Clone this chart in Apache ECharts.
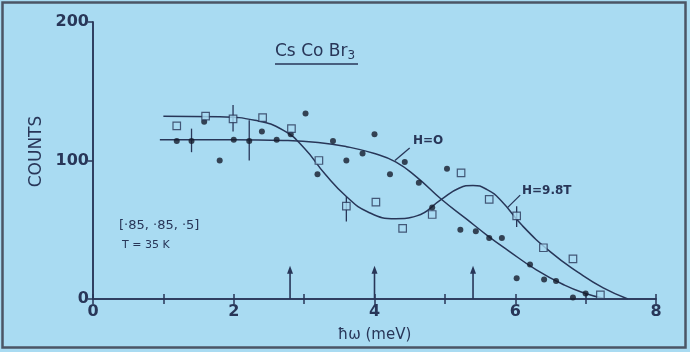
<!DOCTYPE html>
<html><head><meta charset="utf-8">
<script src="https://cdn.jsdelivr.net/npm/echarts@6/dist/echarts.min.js"></script>
<style>html,body{margin:0;padding:0;background:#cfe9f6;}#c{width:690px;height:352px;}</style>
</head><body><div id="c"></div>
<script>
// Data
const circX = [1.19,1.40,1.58,1.80,2.00,2.22,2.40,2.61,2.81,3.02,3.19,3.41,3.60,3.83,4.00,4.22,4.43,4.63,4.82,5.03,5.22,5.44,5.63,5.81,6.02,6.21,6.41,6.58,6.82,7.00];
const circY = [114,114,128,100,115,114,121,115,119,134,90,114,100,105,119,90,99,84,66,94,50,49,44,44,15,25,14,13,1,4];
const sqX = [1.19,1.60,1.99,2.41,2.82,3.21,3.60,4.02,4.40,4.82,5.23,5.63,6.02,6.40,6.82,7.21];
const sqY = [125,132,130,131,123,100,67,70,51,61,91,72,60,37,29,3];
const errX = [1.40,2.22,1.99,3.60,6.02];
const errLo = [106,100,121,56,52];
const errHi = [123,129,140,74,67];
// fitted curves
const fitHX = [1.0,1.8,2.3,2.7,3.0,3.3,3.6,3.9,4.3,4.6,4.95,5.2,5.4,5.6,5.8,6.1,6.5,6.9,7.25,7.6];
const fitHY = [132,131.5,129,122,109,90,74,63,58,60,72,80,82,79,71,53,34,19,8,0];
const fit0X = [0.95,2.0,2.7,3.2,3.6,4.0,4.3,4.6,4.95,5.3,5.6,5.9,6.3,6.7,7.0,7.25];
const fit0Y = [115,115,114.5,113,110,105,99,88,72,58,46,35,21,10,4,0.5];
const arrowX = [2.8,4.0,5.4];
const arrowH = [24,24,24];
const xTicks = [0,2,4,6,8];
const yTicks = [0,100,200];

const ink = '#283658';
const bg = '#a9dbf2';
const zip = (a,b)=>a.map((v,i)=>[v,b[i]]);
const font = 'DejaVu Sans';

const chart = echarts.init(document.getElementById('c'));
chart.setOption({
  backgroundColor: bg,
  animation: false,
  grid: {left:93, right:34, top:22, bottom:53},
  xAxis: [{
    type:'value', min:0, max:8, interval:1,
    axisLine:{lineStyle:{color:ink,width:1.5}},
    axisTick:{inside:true,length:5,lineStyle:{color:ink,width:1.5}},
    axisLabel:{formatter:v=>xTicks.includes(v)?String(v):'',fontSize:16,fontWeight:'bold',fontFamily:font,color:ink,margin:5},
    splitLine:{show:false},
    name:'ħω (meV)', nameLocation:'middle', nameGap:29,
    nameTextStyle:{fontSize:15,fontFamily:font,color:ink}
  },{
    type:'value', min:0, max:8, interval:1, position:'top',
    axisLine:{lineStyle:{color:ink,width:1.5}},
    axisTick:{inside:true,length:5,lineStyle:{color:ink,width:1.5}},
    axisLabel:{show:false}, splitLine:{show:false}
  }],
  yAxis: [{
    type:'value', min:0, max:200, interval:100,
    axisLine:{show:true,lineStyle:{color:ink,width:1.5}},
    axisTick:{show:true,inside:false,length:5,lineStyle:{color:ink,width:1.5}},
    axisLabel:{formatter:v=>yTicks.includes(v)?String(v):'',fontSize:16,fontWeight:'bold',fontFamily:font,color:ink,margin:4},
    splitLine:{show:false},
    name:'COUNTS', nameLocation:'middle', nameGap:41, nameRotate:90,
    nameTextStyle:{fontSize:17,fontFamily:font,color:ink,padding:[0,0,0,18]}
  },{
    type:'value', min:0, max:200, interval:100, position:'right',
    axisLine:{show:true,lineStyle:{color:ink,width:1.5}},
    axisTick:{show:true,inside:true,length:5,lineStyle:{color:ink,width:1.5}},
    axisLabel:{show:false}, splitLine:{show:false}
  }],
  series: [
    {type:'line', data:zip(fitHX,fitHY), smooth:0.5, symbol:'none', lineStyle:{color:ink,width:1.5}, z:2},
    {type:'line', data:zip(fit0X,fit0Y), smooth:0.5, symbol:'none', lineStyle:{color:ink,width:1.5}, z:2},
    {type:'custom', z:3, data:errX.map((x,i)=>[x,errLo[i],errHi[i]]),
      renderItem:(p,api)=>{
        const a=api.coord([api.value(0),api.value(1)]), b=api.coord([api.value(0),api.value(2)]);
        return {type:'line',shape:{x1:a[0],y1:a[1],x2:b[0],y2:b[1]},style:{stroke:ink,lineWidth:1.3}};
      }},
    {type:'custom', z:3, data:arrowX.map((x,i)=>[x,arrowH[i]]),
      renderItem:(p,api)=>{
        const a=api.coord([api.value(0),0]), b=api.coord([api.value(0),api.value(1)]);
        return {type:'group',children:[
          {type:'line',shape:{x1:a[0],y1:a[1],x2:b[0],y2:b[1]+5},style:{stroke:ink,lineWidth:1.6}},
          {type:'polygon',shape:{points:[[b[0],b[1]],[b[0]-3,b[1]+8],[b[0]+3,b[1]+8]]},style:{fill:ink}}
        ]};
      }},
    {type:'scatter', z:4, data:zip(circX,circY), symbol:'circle', symbolSize:6, itemStyle:{color:'#151c2c'}},
    {type:'scatter', z:5, data:zip(sqX,sqY), symbol:'rect', symbolSize:7.5, itemStyle:{color:bg,borderColor:ink,borderWidth:1.2}},
    {type:'custom', z:3, data:[[4.29,100,4.50,109],[5.89,66,6.07,75]],
      renderItem:(p,api)=>{
        const a=api.coord([api.value(0),api.value(1)]), b=api.coord([api.value(2),api.value(3)]);
        return {type:'line',shape:{x1:a[0],y1:a[1],x2:b[0],y2:b[1]},style:{stroke:ink,lineWidth:1.3}};
      }}
  ],
  graphic: [
    {type:'rect', left:0, top:0, shape:{x:3,y:3,width:683,height:345}, style:{fill:'none',stroke:'#4b5566',lineWidth:2.5}, silent:true},
    {type:'text', left:275, top:43, style:{text:'{a|Cs Co Br}{s|3}', rich:{a:{fontSize:17,fontFamily:font,fill:ink},s:{fontSize:12,fontFamily:font,fill:ink,padding:[8,0,0,0]}}}},
    {type:'line', shape:{x1:275,y1:64,x2:358,y2:64}, style:{stroke:ink,lineWidth:1.5}},
    {type:'text', left:119, top:219, style:{text:'[·85, ·85, ·5]',fontSize:13,fontFamily:font,fill:ink}},
    {type:'text', left:122, top:240, style:{text:'T = 35 K',fontSize:11,fontFamily:font,fill:ink}},
    {type:'text', left:413, top:135, style:{text:'H=O',fontSize:12,fontWeight:'bold',fontFamily:font,fill:ink}},
    {type:'text', left:522, top:185, style:{text:'H=9.8T',fontSize:12,fontWeight:'bold',fontFamily:font,fill:ink}}
  ]
});
</script></body></html>
